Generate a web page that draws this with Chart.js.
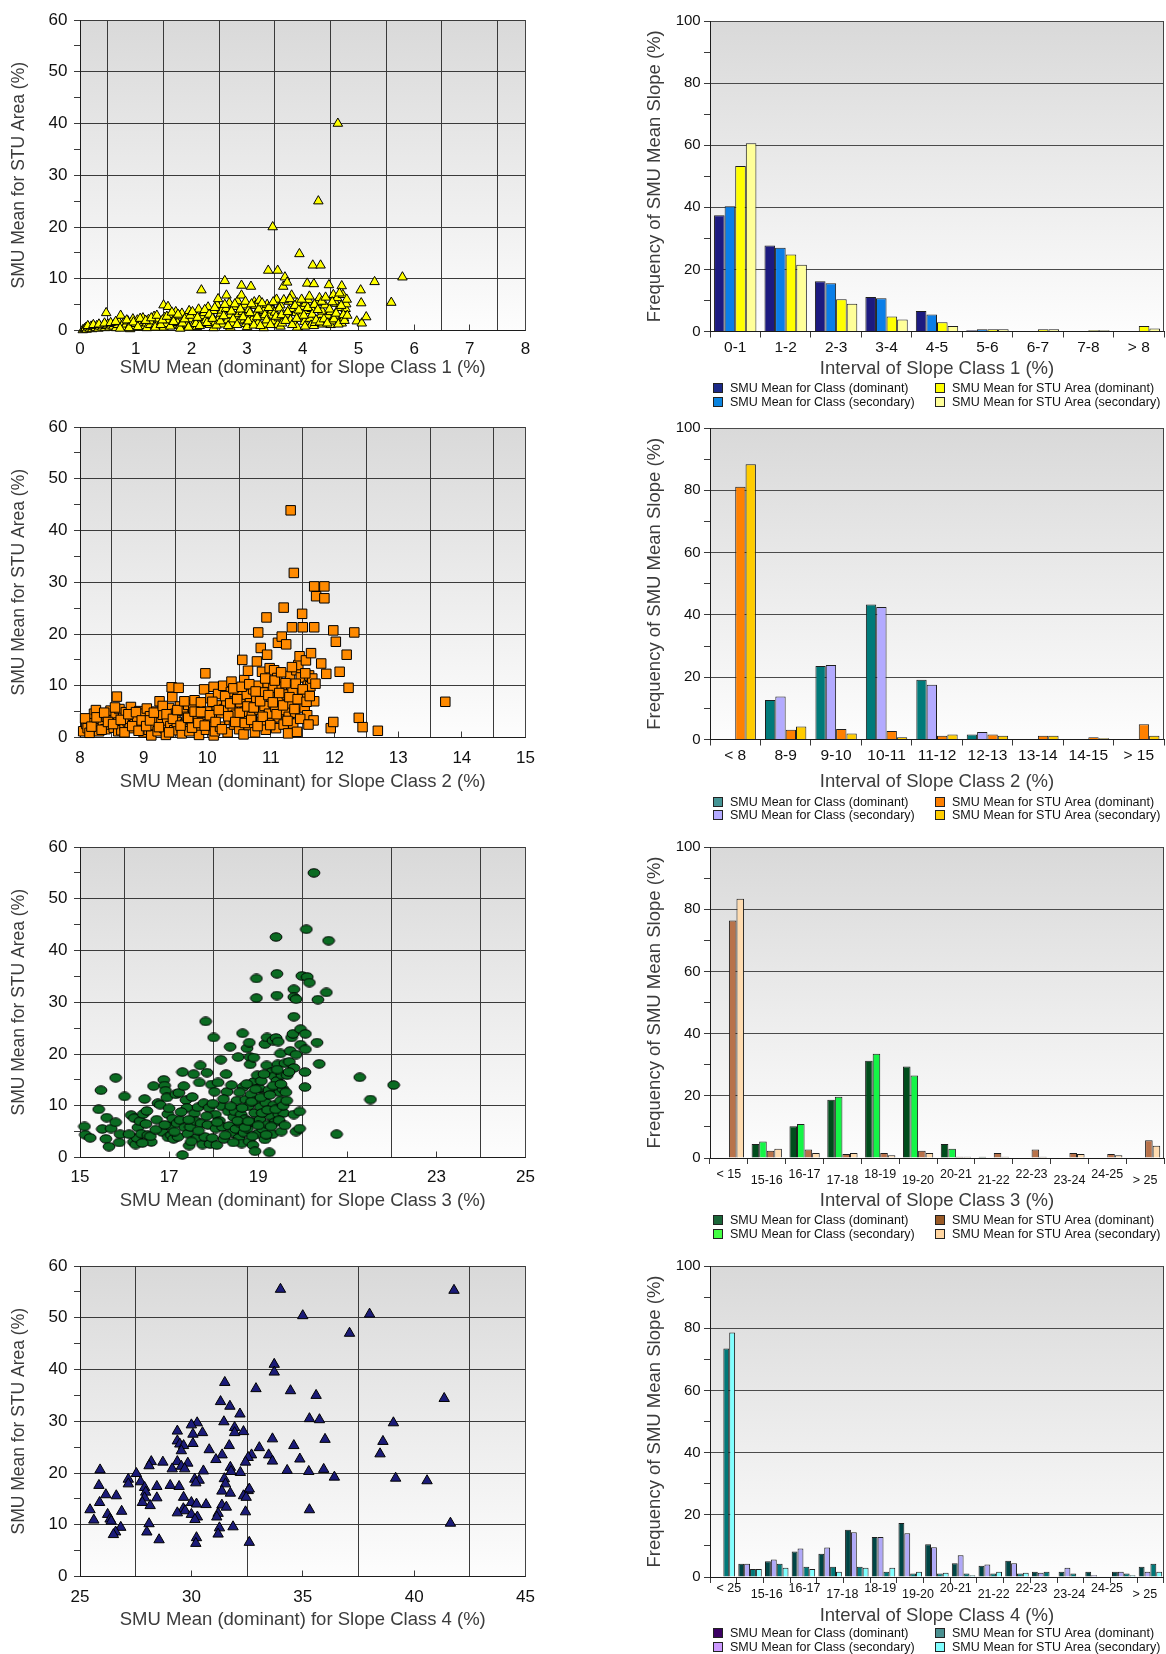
<!DOCTYPE html>
<html>
<head>
<meta charset="utf-8">
<title>SMU slope class comparison</title>
<script src="https://cdn.jsdelivr.net/npm/chart.js@4.4.1/dist/chart.umd.min.js"></script>
<style>
  html, body { margin: 0; padding: 0; background: #ffffff; }
  #page { position: relative; width: 1166px; height: 1654px; overflow: hidden; }
  #page canvas { position: absolute; }
</style>
</head>
<body>
<div id="page"></div>
<script>
// ---------- Scatter data: [SMU mean (dominant), SMU mean for STU area] ----------
const slopeClass1Points = [
  [0.05,0.1],[0.08,0.3],[0.1,0.5],[0.12,0.2],[0.15,0.6],[0.18,0.4],[0.2,0.8],[0.22,0.3],[0.25,0.7],[0.28,0.5],
  [0.3,0.9],[0.33,0.4],[0.36,0.8],[0.4,0.6],[0.42,1.0],[0.45,0.5],[0.47,3.4],[0.48,0.9],[0.5,1.2],[0.53,0.6],
  [0.56,1.0],[0.6,0.8],[0.62,1.3],[0.65,0.5],[0.68,1.1],[0.7,1.6],[0.73,2.9],[0.75,0.9],[0.78,1.4],[0.8,0.7],
  [0.83,1.2],[0.86,1.8],[0.9,1.0],[0.9,0.3],[0.92,1.5],[0.95,2.2],[0.98,0.8],[1.0,1.3],[1.03,2.0],[1.06,1.0],
  [1.1,1.7],[1.1,0.6],[1.13,2.4],[1.16,0.9],[1.2,1.4],[1.2,0.5],[1.23,2.1],[1.26,1.1],[1.3,1.8],[1.33,2.7],
  [1.36,1.2],[1.4,2.2],[1.43,0.8],[1.46,1.6],[1.5,4.9],[1.5,0.6],[1.52,2.5],[1.55,1.3],[1.58,4.6],[1.6,2.0],
  [1.63,3.0],[1.66,1.0],[1.7,2.4],[1.7,1.2],[1.72,3.6],[1.75,1.5],[1.78,2.8],[1.8,0.9],[1.8,0.4],[1.83,3.3],
  [1.86,1.9],[1.9,2.6],[1.93,1.2],[1.96,3.8],[2.0,2.2],[2.03,1.0],[2.06,3.0],[2.1,1.7],[2.1,0.7],[2.13,4.1],
  [2.16,2.5],[2.18,7.8],[2.2,1.3],[2.2,2.8],[2.23,3.4],[2.26,2.0],[2.3,4.5],[2.33,1.1],[2.35,1.8],[2.36,2.9],
  [2.4,3.8],[2.4,0.5],[2.43,1.6],[2.46,5.0],[2.48,6.1],[2.5,2.4],[2.53,3.3],[2.55,3.9],[2.56,1.2],[2.6,9.6],
  [2.62,4.2],[2.63,6.8],[2.65,2.0],[2.68,5.3],[2.7,3.0],[2.7,0.6],[2.73,1.4],[2.76,4.6],[2.8,2.6],[2.83,5.7],
  [2.85,3.2],[2.86,1.8],[2.9,8.7],[2.9,6.8],[2.92,3.6],[2.95,4.9],[2.95,2.0],[2.98,1.3],[3.0,2.9],[3.0,0.7],
  [3.03,4.0],[3.07,8.5],[3.1,2.2],[3.13,5.5],[3.15,4.8],[3.16,3.3],[3.2,1.5],[3.22,5.8],[3.25,4.3],[3.28,2.6],
  [3.3,3.8],[3.3,0.5],[3.33,1.2],[3.36,5.0],[3.38,11.6],[3.4,2.9],[3.43,4.6],[3.45,3.9],[3.46,20.0],[3.48,1.8],
  [3.5,3.5],[3.53,6.0],[3.55,11.6],[3.55,1.1],[3.57,2.4],[3.6,4.9],[3.6,0.8],[3.63,1.4],[3.65,8.5],[3.68,10.3],
  [3.7,3.1],[3.72,9.3],[3.75,5.6],[3.75,4.0],[3.78,2.0],[3.8,6.8],[3.82,4.2],[3.85,1.3],[3.88,3.4],[3.9,5.3],
  [3.9,0.6],[3.94,14.8],[3.96,2.6],[4.0,4.6],[4.03,1.7],[4.05,5.2],[4.06,3.8],[4.08,9.1],[4.1,5.9],[4.13,2.3],
  [4.15,1.0],[4.16,4.2],[4.18,12.6],[4.2,9.0],[4.2,0.9],[4.22,1.5],[4.25,5.4],[4.28,25.0],[4.3,6.3],[4.32,12.6],
  [4.33,3.0],[4.35,3.7],[4.36,1.2],[4.4,4.9],[4.43,2.5],[4.45,2.9],[4.47,8.8],[4.5,3.6],[4.5,1.1],[4.52,1.8],
  [4.55,6.9],[4.58,2.9],[4.6,5.2],[4.62,6.3],[4.63,40.0],[4.65,4.4],[4.68,1.6],[4.7,8.6],[4.7,1.4],[4.72,6.9],
  [4.74,2.4],[4.76,3.6],[4.77,4.2],[4.78,5.1],[4.97,1.8],[5.04,7.8],[5.05,5.3],[5.06,1.4],[5.14,2.6],[5.29,9.4],
  [5.59,5.4],[5.79,10.3],
  [0.14,0.9],[0.24,1.1],[0.34,1.2],[0.44,1.4],[0.55,1.5],[0.64,1.7],[0.72,0.4],[0.84,2.0],[0.88,0.5],[0.96,1.6],
  [1.04,0.7],[1.08,2.3],[1.18,1.9],[1.28,2.4],[1.35,0.6],[1.38,2.9],[1.45,1.1],[1.48,2.0],[1.56,2.7],[1.62,0.8],
  [1.65,3.5],[1.68,1.7],[1.76,3.1],[1.84,1.4],[1.88,2.2],[1.95,0.6],[1.98,2.9],[2.02,3.6],[2.08,1.3],[2.11,2.5],
  [2.15,0.9],[2.24,4.0],[2.28,1.5],[2.32,3.1],[2.38,2.3],[2.42,4.4],[2.45,1.0],[2.52,1.8],[2.58,2.8],[2.6,5.0],
  [2.66,0.9],[2.72,3.7],[2.75,2.2],[2.78,5.1],[2.82,1.1],[2.88,4.1],[2.93,2.6],[2.97,5.6],[3.02,1.8],[3.05,3.4],
  [3.08,5.1],[3.12,1.0],[3.18,2.6],[3.21,4.1],[3.24,0.9],[3.27,5.3],[3.32,3.0],[3.35,2.0],[3.39,4.4],[3.42,1.1],
  [3.47,5.5],[3.52,2.7],[3.58,4.3],[3.62,3.0],[3.66,5.9],[3.69,1.9],[3.73,3.6],[3.77,6.1],[3.81,1.1],[3.86,4.8],
  [3.89,2.3],[3.93,3.9],[3.98,6.0],[4.02,2.9],[4.04,0.8],[4.09,4.4],[4.12,6.6],[4.17,3.1],[4.21,5.0],[4.24,2.0],
  [4.27,4.0],[4.31,1.6],[4.34,5.6],[4.38,2.2],[4.41,6.4],[4.44,1.4],[4.48,4.1],[4.53,5.5],[4.56,2.2],[4.6,3.3],
  [4.64,1.2],[4.66,7.2],[4.69,4.8],[4.73,3.0],[4.75,1.9],[4.79,6.0],[4.8,2.9]
];

const slopeClass2Points = [
  [8.05,1.2],[8.1,2.6],[8.12,1.8],[8.15,0.9],[8.2,3.0],[8.22,4.6],[8.25,5.3],[8.28,2.2],[8.3,1.2],[8.32,3.6],
  [8.36,2.8],[8.4,1.6],[8.42,4.0],[8.45,2.5],[8.48,5.2],[8.5,3.3],[8.53,1.9],[8.56,4.4],[8.58,7.9],[8.6,2.9],
  [8.6,1.2],[8.62,5.5],[8.65,1.4],[8.68,3.8],[8.7,2.3],[8.72,4.9],[8.75,3.1],[8.78,1.8],[8.8,5.9],[8.83,4.2],
  [8.86,2.6],[8.9,3.5],[8.93,5.1],[8.96,2.0],[8.98,4.6],[9.0,1.0],[9.02,3.0],[9.05,5.6],[9.08,1.5],[9.1,4.1],
  [9.12,0.4],[9.15,2.4],[9.18,3.6],[9.2,5.0],[9.22,1.2],[9.25,7.0],[9.28,2.9],[9.3,4.4],[9.33,1.8],[9.35,0.5],
  [9.37,3.3],[9.4,5.7],[9.42,2.2],[9.44,9.7],[9.45,7.8],[9.48,1.4],[9.5,4.6],[9.52,3.0],[9.55,9.6],[9.57,6.0],
  [9.6,1.8],[9.6,0.8],[9.62,5.2],[9.65,2.6],[9.68,4.0],[9.7,6.3],[9.72,1.2],[9.75,3.4],[9.78,5.6],[9.8,7.2],
  [9.82,2.1],[9.85,4.3],[9.87,0.5],[9.9,6.8],[9.92,3.0],[9.95,9.3],[9.97,12.4],[9.98,1.5],[10.0,5.0],[10.02,2.6],
  [10.05,7.6],[10.07,3.9],[10.1,9.8],[10.1,0.4],[10.12,1.2],[10.15,6.2],[10.17,8.4],[10.2,2.1],[10.22,4.7],[10.25,10.0],
  [10.27,5.5],[10.3,7.0],[10.32,1.0],[10.35,3.4],[10.37,8.8],[10.38,10.8],[10.4,6.0],[10.42,2.5],[10.45,4.4],[10.48,9.0],
  [10.5,1.6],[10.52,6.8],[10.55,15.0],[10.55,3.2],[10.57,0.6],[10.58,11.1],[10.6,5.0],[10.62,8.3],[10.64,12.9],[10.65,2.4],
  [10.67,6.6],[10.7,4.0],[10.72,9.3],[10.75,1.0],[10.77,7.6],[10.78,14.7],[10.8,10.0],[10.8,20.3],[10.82,5.4],[10.84,17.3],
  [10.85,3.0],[10.86,12.7],[10.88,8.7],[10.9,6.1],[10.92,1.5],[10.93,23.2],[10.94,16.0],[10.95,10.6],[10.97,4.6],[10.98,13.4],
  [11.0,7.9],[11.02,2.8],[11.04,9.6],[11.05,13.0],[11.07,5.9],[11.08,1.8],[11.1,11.5],[11.11,18.3],[11.12,3.9],[11.14,7.4],
  [11.17,19.5],[11.17,9.8],[11.2,25.1],[11.2,2.5],[11.22,5.3],[11.24,18.0],[11.25,8.3],[11.27,0.8],[11.28,4.0],[11.3,11.9],
  [11.31,43.9],[11.32,6.6],[11.33,21.3],[11.34,9.2],[11.35,2.7],[11.36,31.8],[11.38,4.8],[11.4,13.0],[11.41,1.1],[11.43,14.0],
  [11.45,15.7],[11.47,11.6],[11.49,23.9],[11.5,21.3],[11.52,8.6],[11.53,5.8],[11.55,14.9],[11.57,4.3],[11.58,10.0],[11.6,12.0],
  [11.62,9.9],[11.63,16.3],[11.65,11.4],[11.67,3.3],[11.68,7.0],[11.68,29.2],[11.68,21.3],[11.71,27.3],[11.7,10.4],[11.79,14.3],
  [11.84,29.2],[11.84,26.9],[11.87,12.3],[11.94,1.8],[11.98,3.0],[11.98,20.7],[12.02,18.5],[12.08,12.7],[12.19,16.0],[12.22,9.6],
  [12.31,20.3],[12.38,3.8],[12.44,2.0],[12.68,1.3],[13.74,6.9],
  [8.08,3.7],[8.18,2.1],[8.26,3.9],[8.34,1.5],[8.38,4.8],[8.44,3.0],[8.52,2.6],[8.55,5.8],[8.64,3.4],[8.7,1.0],
  [8.76,4.5],[8.82,2.2],[8.88,4.9],[8.92,1.3],[8.97,3.3],[9.04,2.2],[9.1,3.3],[9.16,4.8],[9.24,2.0],[9.3,6.1],
  [9.36,4.5],[9.4,1.0],[9.46,3.6],[9.53,5.3],[9.58,2.3],[9.64,7.0],[9.7,3.8],[9.76,1.9],[9.8,5.0],[9.86,2.8],
  [9.9,4.9],[9.96,2.3],[10.04,4.3],[10.08,6.9],[10.13,3.0],[10.18,5.3],[10.23,1.6],[10.28,8.0],[10.33,4.1],[10.36,6.6],
  [10.41,9.5],[10.44,3.0],[10.47,7.4],[10.51,4.8],[10.54,9.8],[10.59,2.8],[10.63,6.0],[10.66,10.3],[10.69,3.4],[10.73,5.8],
  [10.76,8.9],[10.79,2.2],[10.83,7.0],[10.87,4.0],[10.91,11.4],[10.96,8.2],[10.99,2.4],[11.03,6.8],[11.06,11.0],[11.09,4.5],
  [11.13,8.6],[11.16,12.6],[11.19,6.2],[11.23,10.5],[11.26,3.2],[11.29,7.8],[11.33,13.6],[11.37,5.5],[11.39,10.4],[11.42,7.4],
  [11.46,3.6],[11.5,9.3],[11.54,12.4],[11.56,6.9],[11.59,2.5],[11.61,8.0]
];

const slopeClass3Points = [
  [15.1,6.0],[15.12,4.4],[15.23,3.8],[15.42,9.3],[15.47,13.0],[15.5,5.5],[15.58,3.6],[15.6,7.7],[15.65,2.1],[15.7,5.6],
  [15.8,15.4],[15.8,6.8],[15.88,2.9],[15.9,4.5],[16.0,11.8],[16.15,8.2],[16.2,3.0],[16.25,2.5],[16.22,7.6],[16.28,3.8],
  [16.3,5.8],[16.35,7.0],[16.38,4.6],[16.42,8.4],[16.45,11.3],[16.5,9.0],[16.48,6.5],[16.52,4.3],[16.6,3.0],[16.58,4.1],
  [16.65,13.8],[16.72,7.3],[16.75,10.5],[16.8,10.2],[16.85,4.9],[16.88,15.0],[16.9,13.9],[16.92,12.9],[16.95,11.6],[16.97,8.4],
  [16.98,3.9],[17.02,6.1],[17.05,4.3],[17.08,7.5],[17.1,3.6],[17.15,12.2],[17.18,6.6],[17.2,4.0],[17.22,12.5],[17.25,7.2],
  [17.3,16.5],[17.3,0.5],[17.33,13.8],[17.35,5.8],[17.38,11.1],[17.4,9.6],[17.42,4.6],[17.45,2.3],[17.48,5.9],[17.52,11.7],
  [17.55,16.1],[17.57,8.5],[17.6,7.0],[17.62,3.8],[17.65,9.7],[17.68,14.5],[17.7,17.8],[17.72,6.6],[17.75,2.5],[17.78,10.5],
  [17.82,26.3],[17.8,4.0],[17.85,16.4],[17.87,6.3],[17.9,9.6],[17.92,2.6],[17.95,14.1],[17.97,3.8],[18.0,23.2],[18.02,12.7],
  [18.04,8.3],[18.05,5.6],[18.07,2.4],[18.1,14.5],[18.13,7.1],[18.16,18.9],[18.18,9.9],[18.2,5.9],[18.23,3.6],[18.28,16.1],
  [18.3,12.7],[18.33,8.9],[18.35,6.1],[18.37,21.4],[18.4,14.0],[18.42,4.8],[18.45,7.8],[18.48,8.9],[18.5,5.5],[18.52,11.0],
  [18.55,19.4],[18.57,3.8],[18.6,6.6],[18.62,8.3],[18.63,2.7],[18.65,24.0],[18.66,13.6],[18.68,4.8],[18.7,7.4],[18.72,11.2],
  [18.75,21.1],[18.76,5.6],[18.78,9.9],[18.8,22.2],[18.8,3.1],[18.82,19.4],[18.82,18.0],[18.84,12.2],[18.86,6.9],[18.88,2.4],
  [18.9,14.6],[18.9,19.3],[18.92,8.6],[18.93,1.2],[18.95,11.0],[18.96,34.6],[18.96,30.8],[18.98,15.9],[18.99,4.6],[19.02,13.4],
  [19.04,7.3],[19.05,9.8],[19.07,14.8],[19.1,5.5],[19.12,11.8],[19.15,21.9],[19.15,3.5],[19.17,10.6],[19.19,17.8],[19.2,23.2],
  [19.22,6.4],[19.24,13.0],[19.25,1.0],[19.27,8.1],[19.3,16.5],[19.32,4.5],[19.33,22.6],[19.35,10.1],[19.36,15.7],[19.38,6.8],
  [19.4,42.6],[19.4,23.1],[19.42,35.5],[19.42,31.3],[19.42,14.8],[19.44,18.0],[19.45,22.4],[19.46,8.4],[19.48,12.6],[19.5,20.1],
  [19.5,11.0],[19.52,5.0],[19.53,16.0],[19.55,13.3],[19.57,8.6],[19.6,18.2],[19.62,12.6],[19.65,15.9],[19.7,18.5],[19.72,20.6],
  [19.75,23.2],[19.78,23.9],[19.8,32.5],[19.8,31.0],[19.8,27.2],[19.8,17.3],[19.8,8.3],[19.85,30.6],[19.85,19.9],[19.85,5.0],
  [19.93,8.9],[19.93,5.6],[19.95,24.8],[19.95,21.8],[19.98,35.1],[20.05,16.5],[20.05,13.6],[20.06,20.9],[20.06,23.9],[20.08,44.1],
  [20.1,34.9],[20.15,33.8],[20.25,55.0],[20.32,22.2],[20.34,30.5],[20.37,18.1],[20.53,31.9],[20.58,41.9],[20.76,4.5],[21.28,15.5],
  [21.52,11.2],[22.04,14.0],
  [16.1,4.5],[16.4,2.8],[16.7,5.4],[16.9,6.3],[17.0,9.5],[17.12,5.0],[17.27,8.8],[17.44,7.3],[17.5,3.1],[17.66,5.2],
  [17.84,8.0],[17.98,10.4],[18.08,6.8],[18.22,11.3],[18.26,4.3],[18.38,9.9],[18.44,2.9],[18.54,7.1],[18.58,12.6],[18.64,9.6],
  [18.7,5.8],[18.74,14.2],[18.78,7.0],[18.85,10.8],[18.87,4.1],[18.94,13.2],[19.0,6.2],[19.06,11.6],[19.09,8.6],[19.13,16.1],
  [19.18,4.4],[19.21,9.2],[19.26,12.1],[19.29,6.0],[19.34,13.9],[19.39,9.3],[19.43,17.0],[19.47,7.2],[19.51,14.2],[19.56,10.0],
  [19.6,6.2],[19.64,11.0],[19.69,16.5]
];

const slopeClass4Points = [
  [34.0,55.5],[41.79,55.3],[35.0,50.4],[38.0,50.7],[37.1,47.0],[33.72,41.0],[33.72,39.5],[31.5,37.5],[32.9,36.3],[34.45,35.9],
  [35.6,35.0],[41.35,34.4],[31.31,33.8],[31.73,32.9],[32.18,31.4],[35.3,30.5],[35.75,30.3],[31.46,29.9],[39.07,29.7],[30.26,29.7],
  [30.0,29.3],[29.37,28.1],[31.94,28.8],[32.34,28.0],[31.94,27.8],[30.5,27.8],[30.07,27.5],[33.64,26.6],[36.0,26.5],[38.6,26.1],
  [29.37,26.2],[29.48,25.6],[30.07,25.7],[29.65,25.3],[31.7,25.3],[33.05,24.9],[34.6,25.3],[30.8,24.5],[29.55,24.3],[31.38,23.5],
  [32.7,23.5],[33.47,23.5],[38.47,23.7],[32.55,23.0],[31.1,22.6],[34.87,22.7],[33.64,22.3],[28.2,22.2],[28.72,22.1],[29.37,22.2],
  [32.43,22.1],[29.84,21.9],[28.1,21.4],[29.55,21.3],[29.14,20.8],[29.7,20.8],[31.75,21.1],[25.9,20.6],[27.53,19.9],[30.54,20.4],
  [32.2,20.1],[31.78,20.3],[34.3,20.5],[35.27,20.3],[35.94,20.7],[36.42,19.2],[40.58,18.5],[39.17,19.0],[27.17,18.8],[27.17,17.9],
  [30.15,18.8],[30.35,18.6],[31.48,18.9],[27.72,18.3],[25.85,17.6],[29.05,17.6],[29.45,17.4],[30.2,18.1],[31.53,17.9],[27.9,17.2],
  [28.45,17.4],[27.95,16.3],[31.37,16.5],[31.75,16.1],[32.55,16.6],[32.6,16.9],[26.16,15.8],[26.63,15.6],[27.9,15.2],[28.45,15.2],
  [29.65,15.3],[32.34,15.6],[32.46,15.3],[25.88,14.3],[27.8,14.3],[30.0,14.3],[30.23,14.0],[28.15,13.7],[30.66,13.9],[31.37,13.8],
  [31.57,13.4],[35.3,12.9],[25.45,12.9],[26.87,12.6],[29.64,13.1],[29.72,12.7],[29.37,12.3],[32.43,12.5],[26.24,12.0],[30.0,12.0],
  [31.2,12.2],[26.35,11.1],[30.27,11.5],[31.14,11.5],[25.62,10.9],[26.4,10.7],[30.16,11.0],[28.1,10.2],[41.63,10.3],[26.83,9.5],
  [31.87,9.6],[31.26,9.4],[26.6,8.6],[28.0,8.6],[26.5,8.1],[31.2,8.2],[28.55,7.1],[30.23,7.5],[30.2,6.4],[32.6,6.6]
];

// ---------- Frequency data (%), one value per interval ----------
const seriesNames = [
  'SMU Mean for Class (dominant)',
  'SMU Mean for Class (secondary)',
  'SMU Mean for STU Area (dominant)',
  'SMU Mean for STU Area (secondary)'
];

const class1Intervals = ['0-1', '1-2', '2-3', '3-4', '4-5', '5-6', '6-7', '7-8', '> 8'];
const class1ClassDominant   = [37.4, 27.7, 16.2, 11.1, 6.6, 0.4, 0, 0, 0];
const class1ClassSecondary  = [40.3, 27.0, 15.5, 10.7, 5.5, 0.7, 0, 0, 0];
const class1StuDominant     = [53.3, 24.8, 10.4, 4.8, 3.0, 0.7, 0.7, 0.4, 1.8];
const class1StuSecondary    = [60.6, 21.5, 8.9, 3.9, 1.8, 0.7, 0.7, 0.4, 1.0];

const class2Intervals = ['< 8', '8-9', '9-10', '10-11', '11-12', '12-13', '13-14', '14-15', '> 15'];
const class2ClassDominant   = [0, 12.7, 23.6, 43.3, 19.2, 1.6, 0, 0, 0];
const class2ClassSecondary  = [0, 13.8, 23.9, 42.5, 17.6, 2.4, 0, 0, 0];
const class2StuDominant     = [81.1, 3.1, 3.4, 2.7, 1.2, 1.6, 1.2, 0.75, 4.9];
const class2StuSecondary    = [88.4, 4.2, 1.9, 0.75, 1.6, 1.2, 1.2, 0.4, 1.2];

const class3Intervals = ['< 15', '15-16', '16-17', '17-18', '18-19', '19-20', '20-21', '21-22', '22-23', '23-24', '24-25', '> 25'];
const class3ClassDominant   = [0, 4.5, 10.2, 18.7, 31.3, 29.4, 4.5, 0.4, 0, 0, 0, 0];
const class3ClassSecondary  = [0, 5.3, 10.9, 19.7, 33.5, 26.5, 3.0, 0, 0, 0, 0, 0];
const class3StuDominant     = [76.4, 2.3, 2.7, 1.3, 1.6, 2.3, 0.4, 1.6, 2.7, 1.6, 1.3, 5.7];
const class3StuSecondary    = [83.4, 3.0, 1.6, 1.6, 0.9, 1.6, 0.4, 0.4, 0.4, 1.3, 0.9, 3.9];

// Class 4: 17 bar groups along the axis, labelled by 12 interval names
const class4Intervals = ['< 25', '15-16', '16-17', '17-18', '18-19', '19-20', '20-21', '21-22', '22-23', '23-24', '24-25', '> 25'];
const class4Groups = ['1','2','3','4','5','6','7','8','9','10','11','12','13','14','15','16','17'];
const class4ClassDominant   = [0, 4.3, 5.1, 8.2, 7.5, 15.2, 12.9, 17.4, 10.5, 4.4, 3.6, 5.2, 1.7, 1.7, 1.7, 1.7, 3.3];
const class4ClassSecondary  = [0, 4.3, 5.6, 9.2, 9.5, 14.4, 12.9, 14.1, 9.6, 7.0, 4.0, 4.4, 1.4, 3.0, 0.6, 1.7, 1.7];
const class4StuDominant     = [73.5, 2.6, 4.3, 3.3, 3.3, 3.3, 1.7, 1.1, 1.1, 1.1, 1.1, 1.1, 1.7, 1.1, 0, 1.1, 4.3];
const class4StuSecondary    = [78.6, 2.6, 3.0, 2.6, 1.7, 3.0, 3.0, 1.7, 1.4, 0.6, 1.7, 1.4, 0, 0, 0, 0.6, 1.7];

// ---------- Shared styling ----------
const FONT_FAMILY = '"Liberation Sans", Arial, Helvetica, sans-serif';
const GRID = '#3a3a3a';
const AXIS = '#1c1c1c';
const TICK_TEXT = '#111111';
const TITLE_TEXT = '#3c3c3c';
const NONE = 'rgba(0,0,0,0)';

function font(size, lineHeight) {
  return { family: FONT_FAMILY, size: size, lineHeight: lineHeight || 1.2 };
}

function makeCanvas(left, top, width, height) {
  const c = document.createElement('canvas');
  c.width = width; c.height = height;
  c.style.left = left + 'px'; c.style.top = top + 'px';
  c.style.width = width + 'px'; c.style.height = height + 'px';
  document.getElementById('page').appendChild(c);
  return c;
}

// Grey-to-white plot background and the right-hand frame line
const plotFrame = {
  id: 'plotFrame',
  beforeDraw(chart) {
    const { ctx, chartArea: a } = chart;
    const g = ctx.createLinearGradient(0, a.top, 0, a.bottom);
    g.addColorStop(0, '#d9d9d9');
    g.addColorStop(1, '#fdfdfd');
    ctx.save();
    ctx.fillStyle = g;
    ctx.fillRect(a.left, a.top, a.right - a.left, a.bottom - a.top);
    ctx.restore();
  },
  beforeDatasetsDraw(chart) {
    const { ctx, chartArea: a } = chart;
    ctx.save();
    ctx.strokeStyle = '#444444';
    ctx.lineWidth = 1;
    const x = Math.round(a.right) - 0.5;
    ctx.beginPath();
    ctx.moveTo(x, a.top);
    ctx.lineTo(x, a.bottom);
    ctx.stroke();
    ctx.restore();
  }
};

// Two-column legend below the bar charts
const pairedLegend = {
  id: 'pairedLegend',
  afterDraw(chart, args, opts) {
    if (!opts || !opts.rows) return;
    const { ctx } = chart;
    ctx.save();
    ctx.font = '12.5px ' + FONT_FAMILY;
    ctx.textBaseline = 'middle';
    ctx.textAlign = 'left';
    chart.data.datasets.forEach((ds, i) => {
      const x = opts.columns[Math.floor(i / 2)];
      const y = opts.rows[i % 2];
      ctx.fillStyle = opts.swatches[i];
      ctx.fillRect(x, y - 5, 10, 10);
      ctx.strokeStyle = '#222222';
      ctx.lineWidth = 1;
      ctx.strokeRect(x + 0.5, y - 4.5, 9, 9);
      ctx.fillStyle = '#111111';
      ctx.fillText(ds.label, x + 17, y + 0.5);
    });
    ctx.restore();
  }
};

function ellipseMarker(fill) {
  const c = document.createElement('canvas');
  c.width = 14; c.height = 10;
  const g = c.getContext('2d');
  g.beginPath();
  g.ellipse(7, 5, 5.9, 4.2, 0, 0, Math.PI * 2);
  g.fillStyle = fill;
  g.fill();
  g.lineWidth = 1;
  g.strokeStyle = '#000000';
  g.stroke();
  return c;
}

// ---------- Scatter panels ----------
function scatterChart(p) {
  const canvas = makeCanvas(0, p.canvasTop, 580, p.canvasHeight);
  const isLabel = v => {
    const k = (v - p.xMin) / p.labelStep;
    return Math.abs(k - Math.round(k)) < 1e-6;
  };
  return new Chart(canvas, {
    type: 'scatter',
    data: {
      datasets: [{
        data: p.points.map(([x, y]) => ({ x, y })),
        pointStyle: p.marker,
        pointRadius: p.radius,
        backgroundColor: p.fill,
        borderColor: '#000000',
        borderWidth: 1,
        clip: false
      }]
    },
    options: {
      responsive: false,
      animation: false,
      events: [],
      layout: { padding: { top: p.padTop, right: 54.5, bottom: 0, left: 0 } },
      plugins: { legend: { display: false }, tooltip: { enabled: false } },
      scales: {
        x: {
          type: 'linear', min: p.xMin, max: p.xMax,
          afterFit: s => { s.height = p.xAxisHeight; },
          ticks: {
            stepSize: p.labelStep / 2, autoSkip: false, maxRotation: 0, minRotation: 0,
            padding: p.tickPad, color: TICK_TEXT, font: font(17),
            callback: v => (isLabel(v) ? String(v) : '')
          },
          grid: {
            color: c => (c.tick && !isLabel(c.tick.value) ? GRID : NONE),
            tickColor: c => (c.tick && isLabel(c.tick.value) ? GRID : NONE),
            tickLength: -6, lineWidth: 1
          },
          border: { color: AXIS, width: 1 },
          title: {
            display: true, text: p.xTitle, color: TITLE_TEXT, font: font(18.5),
            padding: { top: 0, bottom: p.titlePad }
          }
        },
        y: {
          min: 0, max: 60,
          afterFit: s => { s.width = 80; },
          ticks: {
            stepSize: 5, autoSkip: false, padding: 6.5, color: TICK_TEXT, font: font(17),
            callback: v => (v % 10 === 0 ? String(v) : '')
          },
          grid: {
            color: c => (c.tick && c.tick.value % 10 === 0 && c.tick.value > 0 ? GRID : NONE),
            tickColor: GRID, tickLength: 6, lineWidth: 1
          },
          border: { color: AXIS, width: 1 },
          title: {
            display: true, text: 'SMU Mean for STU Area (%)', color: TITLE_TEXT, font: font(17.5),
            padding: { top: 8.5, bottom: 0 }
          }
        }
      }
    },
    plugins: [plotFrame]
  });
}

// ---------- Bar panels ----------
function barChart(p) {
  const canvas = makeCanvas(590, p.canvasTop, 576, p.canvasHeight);
  const grouped = !!p.groups;
  const datasets = p.series.map((values, i) => ({
    label: seriesNames[i],
    data: values,
    backgroundColor: p.colors[i],
    borderColor: '#1e1e1e',
    borderWidth: 1,
    categoryPercentage: p.categoryPercentage,
    barPercentage: 1,
    xAxisID: 'x'
  }));

  const labelTicks = {
    autoSkip: false, maxRotation: 0, minRotation: 0,
    padding: p.tickPad, color: TICK_TEXT,
    font: p.stagger ? font(12.5, 0.45) : font(15.5),
    callback: function (v, i) {
      const l = this.getLabelForValue(v);
      return p.stagger && i % 2 ? ['', l] : l;
    }
  };
  const xTitle = {
    display: true, text: p.xTitle, color: TITLE_TEXT, font: font(18.5),
    padding: { top: 0, bottom: p.titlePad }
  };

  const scales = {
    x: {
      type: 'category', offset: true, weight: 0,
      afterFit: s => { s.height = grouped ? 0 : p.xAxisHeight; },
      ticks: grouped ? { display: false } : labelTicks,
      grid: { offset: true, drawOnChartArea: false, drawTicks: true, tickLength: 6, tickColor: GRID },
      border: { color: AXIS, width: 1 },
      title: grouped ? { display: false } : xTitle
    },
    y: {
      min: 0, max: 100,
      afterFit: s => { s.width = 120; },
      ticks: {
        stepSize: 10, autoSkip: false, padding: 3.3, color: TICK_TEXT, font: font(15),
        callback: v => (v % 20 === 0 ? String(v) : '')
      },
      grid: {
        color: c => (c.tick && c.tick.value % 20 === 0 && c.tick.value > 0 ? '#4a4a4a' : NONE),
        tickColor: GRID, tickLength: 6, lineWidth: 1
      },
      border: { color: AXIS, width: 1 },
      title: {
        display: true, text: 'Frequency of SMU Mean Slope (%)', color: TITLE_TEXT, font: font(18.5),
        padding: { top: 53.9, bottom: 0 }
      }
    }
  };
  if (grouped) {
    scales.xLabels = {
      type: 'category', axis: 'x', position: 'bottom', offset: true, weight: 1,
      labels: p.intervals,
      afterFit: s => { s.height = p.xAxisHeight; },
      ticks: labelTicks,
      grid: { display: false, drawTicks: false, drawOnChartArea: false },
      border: { display: false },
      title: xTitle
    };
  }

  return new Chart(canvas, {
    type: 'bar',
    data: { labels: grouped ? p.groups : p.intervals, datasets },
    options: {
      responsive: false,
      animation: false,
      events: [],
      layout: { padding: { top: p.padTop, right: 2, bottom: 0, left: 0 } },
      plugins: {
        legend: { display: false },
        tooltip: { enabled: false },
        pairedLegend: { rows: p.legendRows, columns: [123, 345], swatches: p.swatches }
      },
      scales
    },
    plugins: [plotFrame, pairedLegend]
  });
}

// ---------- Layout: four rows, scatter on the left, frequencies on the right ----------
scatterChart({
  canvasTop: 0, canvasHeight: 410, padTop: 20, xAxisHeight: 79.5, tickPad: 14.3, titlePad: 30.9,
  xMin: 0, xMax: 8, labelStep: 1, xTitle: 'SMU Mean (dominant) for Slope Class 1 (%)',
  points: slopeClass1Points, marker: 'triangle', radius: 5.5, fill: '#ffff00'
});
scatterChart({
  canvasTop: 410, canvasHeight: 418, padTop: 17, xAxisHeight: 90.5, tickPad: 16.3, titlePad: 34.9,
  xMin: 8, xMax: 15, labelStep: 1, xTitle: 'SMU Mean (dominant) for Slope Class 2 (%)',
  points: slopeClass2Points, marker: 'rect', radius: 6.7, fill: '#ff8a00'
});
scatterChart({
  canvasTop: 828, canvasHeight: 418, padTop: 19, xAxisHeight: 88.5, tickPad: 15.3, titlePad: 33.9,
  xMin: 15, xMax: 25, labelStep: 2, xTitle: 'SMU Mean (dominant) for Slope Class 3 (%)',
  points: slopeClass3Points, marker: ellipseMarker('#0b6b22'), radius: 5, fill: '#0b6b22'
});
scatterChart({
  canvasTop: 1246, canvasHeight: 408, padTop: 20, xAxisHeight: 77.5, tickPad: 16.3, titlePad: 22.9,
  xMin: 25, xMax: 45, labelStep: 5, xTitle: 'SMU Mean (dominant) for Slope Class 4 (%)',
  points: slopeClass4Points, marker: 'triangle', radius: 6, fill: '#1b1b78'
});

barChart({
  canvasTop: 0, canvasHeight: 410, padTop: 21, xAxisHeight: 78.5, tickPad: 1, titlePad: 29.9,
  intervals: class1Intervals, xTitle: 'Interval of Slope Class 1 (%)', categoryPercentage: 0.84,
  series: [class1ClassDominant, class1ClassSecondary, class1StuDominant, class1StuSecondary],
  colors: ['#1c1a80', '#0a7ee8', '#ffff00', '#ffff99'],
  swatches: ['#1c2a88', '#0a84e0', '#ffff00', '#ffff99'],
  legendRows: [388, 402]
});
barChart({
  canvasTop: 410, canvasHeight: 418, padTop: 18, xAxisHeight: 88.5, tickPad: 0.7, titlePad: 34.9,
  intervals: class2Intervals, xTitle: 'Interval of Slope Class 2 (%)', categoryPercentage: 0.82,
  series: [class2ClassDominant, class2ClassSecondary, class2StuDominant, class2StuSecondary],
  colors: ['#007a7a', '#b3aaff', '#ff8000', '#ffcc00'],
  swatches: ['#449494', '#b3aaff', '#ff8000', '#ffcc00'],
  legendRows: [392, 405]
});
barChart({
  canvasTop: 828, canvasHeight: 418, padTop: 19, xAxisHeight: 88, tickPad: 8.2, titlePad: 33.9,
  intervals: class3Intervals, xTitle: 'Interval of Slope Class 3 (%)', categoryPercentage: 0.8, stagger: true,
  series: [class3ClassDominant, class3ClassSecondary, class3StuDominant, class3StuSecondary],
  colors: ['#004d1c', '#14f546', '#b8724a', '#ffdcb0'],
  swatches: ['#1a6638', '#44ff44', '#9a5a26', '#ffd5a0'],
  legendRows: [392, 406]
});
barChart({
  canvasTop: 1246, canvasHeight: 408, padTop: 20, xAxisHeight: 77, tickPad: 8.7, titlePad: 27.4,
  intervals: class4Intervals, groups: class4Groups, xTitle: 'Interval of Slope Class 4 (%)',
  categoryPercentage: 0.88, stagger: true,
  series: [class4ClassDominant, class4ClassSecondary, class4StuDominant, class4StuSecondary],
  colors: ['#004545', '#b0a8f8', '#007878', '#80ffff'],
  swatches: ['#3c0064', '#cc99ff', '#4a9090', '#80ffff'],
  legendRows: [387, 401]
});
</script>
</body>
</html>
